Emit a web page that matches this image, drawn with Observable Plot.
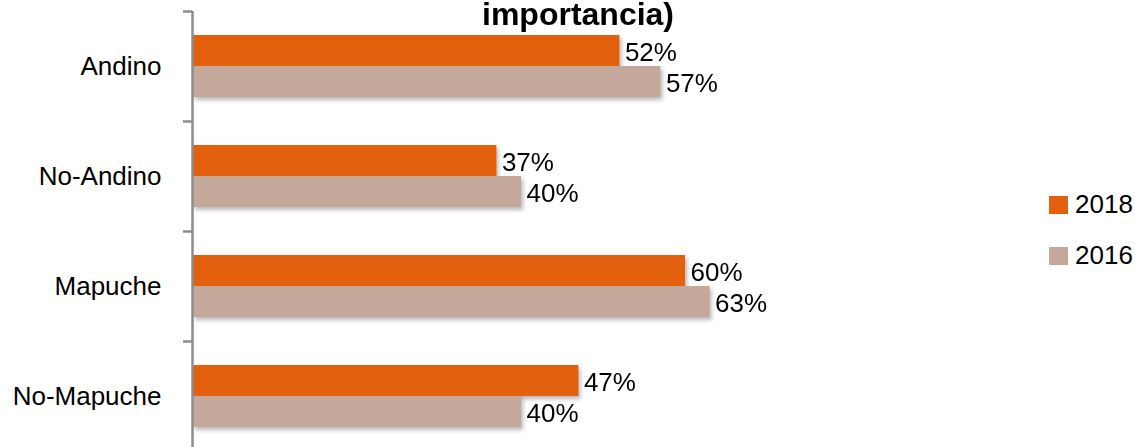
<!DOCTYPE html>
<html>
<head>
<meta charset="utf-8">
<script src="https://cdn.jsdelivr.net/npm/d3@7"></script>
<script src="https://cdn.jsdelivr.net/npm/@observablehq/plot@0.6"></script>
<style>
  html, body { margin: 0; padding: 0; background: #fff; }
  #wrap { position: relative; width: 1135px; height: 447px; overflow: hidden; }
  .nf { font-family: "Liberation Sans", Arial, sans-serif; }
  #title { position: absolute; left: 0; width: 1156px; top: 1px; text-align: center; font-weight: bold; font-size: 32px; line-height: 26px; color: #000; }
  #legend { position: absolute; left: 1049px; top: 179px; font-size: 26px; color: #000; }
  #legend .item { display: flex; align-items: center; height: 51px; }
  #legend .sw { width: 19px; height: 18px; margin-right: 7px; }
  svg g[aria-label="bar"] { filter: drop-shadow(2px 3px 2px rgba(0,0,0,0.28)); }
</style>
</head>
<body>
<div id="wrap" class="nf">
  <div id="title">importancia)</div>
  <div id="chart"></div>
  <div id="legend"></div>
</div>
<script>
const categories = ["Andino", "No-Andino", "Mapuche", "No-Mapuche"];
const years = ["2018", "2016"];
const values2018 = [52, 37, 60, 47];
const values2016 = [57, 40, 63, 40];
const colors = ["#E3600F", "#C4A99B"];

const data = categories.flatMap((c, i) => [
  {category: c, year: "2018", value: values2018[i]},
  {category: c, year: "2016", value: values2016[i]}
]);

const FONT = '"Liberation Sans", Arial, sans-serif';
const H = 447, MT = 11, MB = -4;
const band = (H - MT - MB) / categories.length;

const plot = Plot.plot({
  width: 1135,
  height: H,
  marginLeft: 193,
  marginRight: 122,
  marginTop: MT,
  marginBottom: MB,
  style: {fontFamily: FONT, fontSize: "26px", background: "transparent", color: "#000", overflow: "visible"},
  x: {domain: [0, 100], axis: null},
  fy: {domain: categories, padding: 0},
  y: {domain: years, paddingInner: 0, paddingOuter: 0.72, axis: null},
  color: {domain: years, range: colors},
  marks: [
    Plot.barX(data, {fy: "category", y: "year", x: "value", fill: "year"}),
    Plot.ruleX([0], {stroke: "#8c8c8c", strokeWidth: 2.5, dx: -1}),
    Plot.text(data, {fy: "category", y: "year", x: "value", text: d => `${d.value}%`, textAnchor: "start", dx: 5, dy: 2, fontSize: 26, fill: "#000"}),
    Plot.axisFy({anchor: "left", tickSize: 0, tickPadding: 32, fontSize: 26, label: null}),
    Plot.axisFy({anchor: "left", text: null, tickSize: 9, dy: -band / 2, dx: -1, stroke: "#8c8c8c", strokeWidth: 2.5, label: null})
  ]
});
document.getElementById("chart").appendChild(plot);

const color = plot.scale("color");
const legend = document.getElementById("legend");
years.forEach((y, i) => {
  const item = document.createElement("div");
  item.className = "item";
  const sw = document.createElement("div");
  sw.className = "sw";
  sw.style.background = color.range[i];
  const t = document.createElement("span");
  t.textContent = y;
  item.appendChild(sw);
  item.appendChild(t);
  legend.appendChild(item);
});
</script>
</body>
</html>
